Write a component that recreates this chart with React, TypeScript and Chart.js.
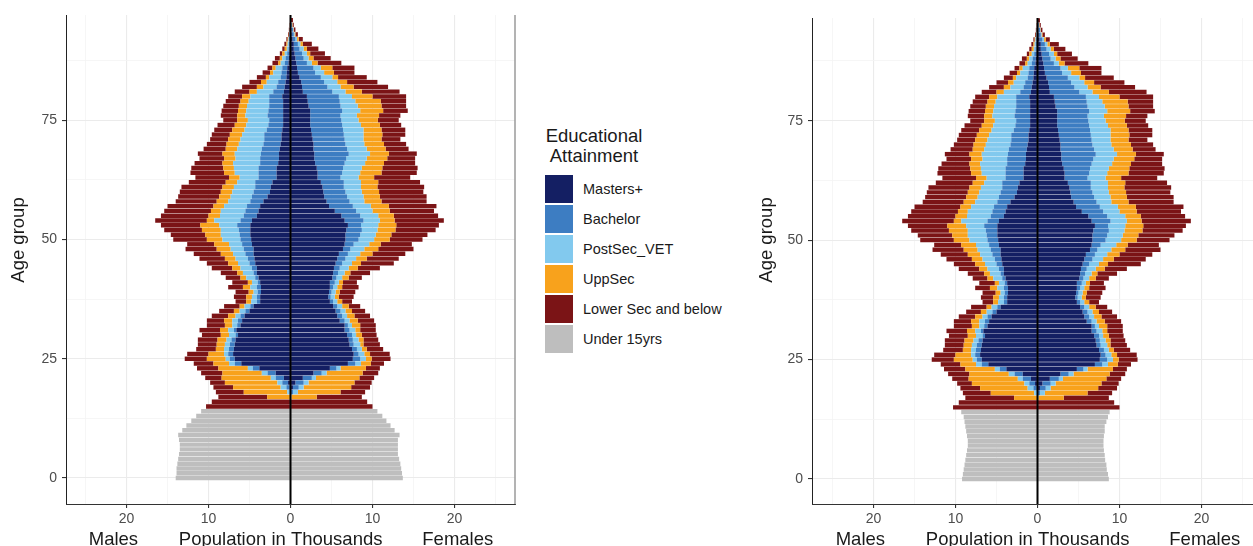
import React, { useEffect, useRef } from 'react';
import { Chart, registerables } from 'chart.js';

Chart.register(...registerables);

// ---------- categories ----------
const CATEGORIES = ['Masters+', 'Bachelor', 'PostSec_VET', 'UppSec', 'Lower Sec and below', 'Under 15yrs'];
const COLORS = ['#141f63', '#3d7dc2', '#82c9ee', '#f8a21c', '#7b1416', '#bebebe'];

// ages (descending)
const ADULT_AGES = [96, 95, 94, 93, 92, 91, 90, 89, 88, 87, 86, 85, 84, 83, 82, 81, 80, 79, 78, 77, 76, 75, 74, 73, 72, 71, 70, 69, 68, 67, 66, 65, 64, 63, 62, 61, 60, 59, 58, 57, 56, 55, 54, 53, 52, 51, 50, 49, 48, 47, 46, 45, 44, 43, 42, 41, 40, 39, 38, 37, 36, 35, 34, 33, 32, 31, 30, 29, 28, 27, 26, 25, 24, 23, 22, 21, 20, 19, 18, 17, 16, 15];
const CHILD_AGES = [14, 13, 12, 11, 10, 9, 8, 7, 6, 5, 4, 3, 2, 1, 0];

// ---------- males: outer edge (thousands) of each attainment band, counted from the centre ----------
const maleMastersEdge = [0, 0, 0, 0.05, 0.05, 0.1, 0.1, 0.15, 0.2, 0.25, 0.4, 0.45, 0.5, 0.6, 0.7, 0.8, 1.0, 0.9, 0.9, 0.9, 0.9, 0.9, 0.9, 1.0, 1.1, 1.1, 1.2, 1.3, 1.4, 1.4, 1.5, 1.7, 1.7, 1.7, 2.2, 2.4, 2.5, 2.8, 3.3, 3.7, 3.9, 4.1, 4.7, 4.9, 4.9, 4.9, 4.8, 4.7, 4.5, 4.5, 4.4, 4.3, 4.1, 4.1, 3.9, 3.7, 3.6, 3.6, 3.7, 3.7, 4.5, 5.0, 5.6, 5.9, 6.1, 6.6, 6.4, 6.7, 6.8, 6.9, 7.0, 6.8, 6.0, 3.8, 1.8, 0.8, 0.3, 0.1, 0, 0, 0, 0];
const maleBachelorEdge = [0, 0, 0.05, 0.1, 0.15, 0.2, 0.25, 0.4, 0.6, 0.7, 1.0, 1.1, 1.2, 1.5, 1.7, 2.1, 2.6, 2.6, 2.6, 2.7, 2.8, 2.6, 2.7, 2.9, 3.2, 3.2, 3.3, 3.5, 3.6, 3.7, 3.7, 3.9, 3.9, 3.9, 4.3, 4.3, 4.5, 4.7, 4.9, 5.3, 5.5, 5.7, 6.1, 6.5, 6.3, 6.2, 6.1, 5.9, 5.7, 5.5, 5.2, 5.0, 4.7, 4.5, 4.3, 4.0, 4.1, 4.0, 4.1, 4.1, 4.9, 5.5, 6.1, 6.4, 6.5, 6.9, 6.7, 7.2, 7.4, 7.5, 7.6, 7.4, 6.8, 4.6, 2.8, 1.8, 1.0, 0.5, 0.1, 0, 0, 0];
const malePostSecEdge = [0, 0, 0.08, 0.15, 0.25, 0.35, 0.45, 0.7, 1.0, 1.2, 1.8, 2.1, 2.6, 2.9, 3.3, 4.1, 4.9, 5.1, 5.3, 5.4, 5.5, 5.2, 5.4, 5.6, 5.9, 6.1, 6.3, 6.5, 6.8, 6.7, 7.0, 6.9, 6.8, 6.2, 6.5, 6.9, 7.1, 7.3, 7.6, 8.1, 8.5, 8.6, 9.3, 8.7, 8.5, 8.5, 8.3, 7.5, 7.3, 7.0, 6.7, 6.4, 6.1, 5.8, 5.4, 4.7, 4.9, 4.5, 4.7, 4.8, 5.6, 6.2, 6.7, 7.1, 7.1, 7.6, 7.5, 7.8, 8.0, 8.1, 8.1, 7.9, 7.5, 5.2, 3.5, 2.4, 1.6, 1.2, 0.4, 0.05, 0, 0];
const maleUppSecEdge = [0, 0.05, 0.1, 0.2, 0.35, 0.5, 0.7, 1.0, 1.3, 1.5, 2.2, 2.5, 3.0, 3.6, 4.1, 5.0, 5.9, 6.1, 6.3, 6.4, 6.5, 6.5, 6.8, 7.1, 7.4, 7.6, 7.8, 7.9, 8.3, 8.1, 8.3, 8.2, 8.1, 7.5, 7.9, 8.3, 8.5, 8.7, 9.0, 9.4, 9.7, 10.0, 10.2, 11.0, 10.8, 10.4, 10.2, 9.3, 9.0, 8.5, 8.0, 7.6, 7.1, 6.5, 6.1, 5.2, 5.8, 5.1, 5.4, 5.4, 6.2, 6.9, 7.6, 8.1, 8.0, 8.6, 8.5, 8.9, 9.0, 9.1, 10.0, 10.2, 9.4, 8.8, 8.3, 8.4, 8.0, 7.0, 5.7, 2.85, 0, 0];
const maleTotal = [0.05, 0.1, 0.2, 0.3, 0.5, 0.75, 1.0, 1.3, 1.9, 2.2, 2.8, 3.4, 4.1, 5.0, 5.9, 6.8, 7.6, 7.9, 8.2, 8.4, 8.5, 8.2, 8.9, 9.3, 9.6, 9.8, 10.2, 10.6, 11.3, 11.1, 11.7, 12.1, 12.2, 11.6, 12.4, 13.3, 13.5, 13.7, 14.0, 15.0, 15.4, 15.8, 16.5, 15.8, 15.4, 14.6, 14.3, 12.6, 12.8, 11.8, 11.1, 10.2, 9.6, 8.5, 7.9, 7.1, 7.6, 6.7, 6.9, 6.7, 8.1, 8.7, 9.6, 10.2, 10.2, 11.1, 10.8, 11.3, 11.3, 11.5, 12.6, 12.9, 11.8, 11.4, 10.9, 10.4, 9.8, 9.4, 9.1, 8.8, 9.6, 10.3];

// ---------- females ----------
const femaleMastersEdge = [0, 0.05, 0.1, 0.15, 0.25, 0.4, 0.4, 0.5, 0.6, 0.7, 0.8, 0.9, 1.1, 1.3, 1.4, 1.5, 2.0, 2.1, 2.2, 2.4, 2.4, 2.4, 2.4, 2.5, 2.6, 2.7, 2.8, 2.8, 2.9, 2.9, 3.0, 3.2, 3.3, 3.3, 3.7, 3.9, 4.0, 4.1, 4.4, 4.7, 5.4, 6.2, 6.6, 7.0, 6.8, 6.7, 6.7, 6.6, 6.4, 5.9, 5.7, 5.5, 5.3, 5.2, 5.1, 4.8, 4.8, 4.7, 4.6, 4.8, 5.2, 5.5, 5.7, 6.0, 6.6, 6.6, 6.9, 7.1, 7.2, 7.5, 7.7, 7.6, 7.0, 4.8, 2.8, 1.5, 0.6, 0.3, 0.05, 0, 0, 0];
const femaleBachelorEdge = [0, 0.15, 0.3, 0.4, 0.6, 0.9, 1.1, 1.4, 1.6, 2.0, 2.8, 3.0, 3.7, 4.1, 4.5, 5.1, 5.9, 6.0, 6.1, 6.3, 6.1, 6.2, 6.3, 6.4, 6.5, 6.6, 6.7, 6.9, 7.1, 6.8, 6.6, 6.4, 6.3, 6.1, 6.5, 6.5, 6.7, 6.9, 7.2, 7.6, 8.0, 8.5, 8.9, 8.6, 8.7, 8.5, 8.3, 7.7, 7.3, 7.0, 6.7, 6.3, 6.0, 5.8, 5.6, 5.4, 5.2, 5.0, 4.9, 5.2, 5.7, 6.1, 6.3, 6.6, 7.0, 7.2, 7.5, 7.6, 7.7, 8.1, 8.3, 8.5, 7.9, 5.6, 3.8, 2.6, 1.6, 1.0, 0.3, 0, 0, 0];
const femalePostSecEdge = [0, 0.2, 0.35, 0.5, 0.8, 1.2, 1.6, 2.0, 2.2, 2.6, 3.7, 4.1, 5.1, 5.7, 6.1, 6.7, 7.5, 7.9, 8.2, 8.5, 8.1, 8.3, 8.6, 8.9, 8.9, 8.9, 9.0, 9.3, 9.7, 9.3, 9.1, 8.7, 8.5, 8.3, 8.6, 8.6, 8.7, 8.9, 9.0, 9.8, 10.0, 10.7, 10.9, 10.7, 10.6, 10.4, 10.2, 9.6, 9.0, 8.5, 8.0, 7.5, 7.1, 6.6, 6.3, 5.9, 5.7, 5.5, 5.4, 5.7, 6.3, 6.7, 6.9, 7.2, 7.5, 7.9, 8.0, 8.3, 8.5, 8.7, 9.0, 9.2, 8.6, 6.1, 4.4, 3.1, 2.2, 1.6, 0.9, 0.1, 0, 0];
const femaleUppSecEdge = [0, 0.25, 0.4, 0.6, 1.0, 1.5, 2.0, 2.4, 2.8, 3.3, 5.1, 5.3, 5.8, 6.9, 7.7, 8.7, 10.0, 11.0, 11.1, 11.3, 10.8, 10.65, 10.9, 11.1, 11.2, 11.1, 11.4, 11.6, 12.0, 11.8, 11.4, 11.2, 11.1, 10.2, 10.7, 10.6, 10.8, 10.9, 11.1, 12.0, 12.1, 12.6, 12.7, 12.9, 12.8, 12.3, 12.1, 11.0, 10.7, 10.0, 9.3, 8.6, 8.2, 7.3, 7.1, 6.4, 6.3, 6.0, 5.9, 6.3, 7.1, 7.5, 7.8, 8.2, 8.5, 8.5, 8.7, 8.9, 8.9, 9.3, 9.7, 9.9, 9.8, 9.2, 8.8, 8.4, 7.8, 7.4, 6.1, 3.2, 0, 0];
const femaleTotal = [0.3, 0.4, 0.6, 0.9, 1.5, 2.6, 3.4, 4.2, 4.9, 6.2, 7.8, 7.8, 9.3, 10.6, 11.9, 13.3, 14.1, 14.1, 14.1, 14.3, 13.4, 13.2, 13.5, 14.0, 14.0, 13.4, 14.1, 14.4, 15.4, 15.2, 15.2, 15.5, 15.4, 14.6, 15.8, 16.3, 16.2, 16.6, 16.6, 17.8, 17.5, 18.0, 18.7, 18.1, 17.7, 16.7, 16.1, 14.8, 15.0, 14.0, 13.2, 12.6, 10.9, 9.7, 8.7, 8.1, 8.3, 7.9, 7.7, 7.5, 8.5, 9.1, 9.7, 10.2, 10.4, 10.4, 10.5, 10.7, 10.9, 11.3, 12.1, 12.2, 11.4, 10.9, 10.7, 10.2, 9.9, 9.7, 9.1, 8.7, 9.35, 10.0];

// ---------- under 15 (ages 14 -> 0) ----------
const leftMaleUnder15 = [10.9, 11.5, 12.1, 12.7, 13.2, 13.7, 13.6, 13.5, 13.5, 13.6, 13.7, 13.8, 13.9, 13.9, 14.0];
const leftFemaleUnder15 = [10.6, 11.2, 11.7, 12.2, 12.7, 13.3, 13.1, 13.1, 13.1, 13.1, 13.25, 13.4, 13.5, 13.6, 13.7];
const rightMaleUnder15 = [9.3, 9.0, 8.9, 8.8, 8.7, 8.6, 8.5, 8.5, 8.6, 8.7, 8.8, 8.9, 9.0, 9.1, 9.2];
const rightFemaleUnder15 = [8.8, 8.6, 8.4, 8.2, 8.2, 8.1, 8.05, 8.05, 8.1, 8.2, 8.25, 8.4, 8.45, 8.6, 8.7];

// ---------- axes ----------
const X_TICKS = [-25, -20, -15, -10, -5, 0, 5, 10, 15, 20, 25];
const Y_TICKS = [0, 12.5, 25, 37.5, 50, 62.5, 75, 87.5];

const FONT = '"Liberation Sans", Arial, Helvetica, sans-serif';

function bandPoints(ages: number[], inner: number[] | null, outer: number[], side: number) {
  const pts: any[] = [];
  for (let i = 0; i < ages.length; i++) {
    const a = inner ? inner[i] : 0;
    const b = outer[i];
    if (b - a <= 0) continue;
    pts.push({ y: ages[i], x: side < 0 ? [-b, -a] : [a, b] });
  }
  return pts;
}

function buildDatasets(under15Male: number[], under15Female: number[]) {
  const maleEdges = [maleMastersEdge, maleBachelorEdge, malePostSecEdge, maleUppSecEdge, maleTotal];
  const femaleEdges = [femaleMastersEdge, femaleBachelorEdge, femalePostSecEdge, femaleUppSecEdge, femaleTotal];
  const common = { grouped: false, categoryPercentage: 1, barPercentage: 0.93, borderWidth: 0 };
  const ds: any[] = [];
  for (let k = 0; k < 5; k++) {
    ds.push({ ...common, label: CATEGORIES[k], backgroundColor: COLORS[k],
      data: bandPoints(ADULT_AGES, k === 0 ? null : maleEdges[k - 1], maleEdges[k], -1) });
    ds.push({ ...common, label: CATEGORIES[k], backgroundColor: COLORS[k],
      data: bandPoints(ADULT_AGES, k === 0 ? null : femaleEdges[k - 1], femaleEdges[k], 1) });
  }
  ds.push({ ...common, label: CATEGORIES[5], backgroundColor: COLORS[5], data: bandPoints(CHILD_AGES, null, under15Male, -1) });
  ds.push({ ...common, label: CATEGORIES[5], backgroundColor: COLORS[5], data: bandPoints(CHILD_AGES, null, under15Female, 1) });
  return ds;
}

const decorPlugin = {
  id: 'pyramidDecor',
  afterDatasetsDraw(chart: any, _args: any, opts: any) {
    const { ctx, chartArea, scales } = chart;
    const x0 = scales.x.getPixelForValue(0);
    ctx.save();
    ctx.strokeStyle = '#000';
    ctx.lineWidth = 2;
    ctx.beginPath();
    ctx.moveTo(x0, chartArea.top);
    ctx.lineTo(x0, chartArea.bottom);
    ctx.stroke();
    if (opts.rightBorder) {
      ctx.strokeStyle = '#9a9a9a';
      ctx.lineWidth = 1.5;
      ctx.beginPath();
      ctx.moveTo(chartArea.right, chartArea.top);
      ctx.lineTo(chartArea.right, chartArea.bottom);
      ctx.stroke();
    }
    ctx.restore();
  },
  afterDraw(chart: any, _args: any, opts: any) {
    const { ctx, scales } = chart;
    const x = scales.x;
    ctx.save();
    ctx.fillStyle = '#1a1a1a';
    ctx.font = '18.5px ' + FONT;
    ctx.textAlign = 'center';
    ctx.textBaseline = 'alphabetic';
    ctx.fillText('Males', x.getPixelForValue(-21.6), 545);
    ctx.fillText('Population in Thousands', x.getPixelForValue(-1.2), 545);
    ctx.fillText('Females', x.getPixelForValue(20.4), 545);
    ctx.translate(opts.yTitleX, 240);
    ctx.rotate(-Math.PI / 2);
    ctx.textBaseline = 'middle';
    ctx.fillText('Age group', 0, 0);
    ctx.restore();
  },
};

const tickVal = (c: any) => (c && c.tick ? c.tick.value : NaN);

function Pyramid(props: any) {
  const ref = useRef<HTMLCanvasElement>(null);
  const { left, width, top, xMin, xMax, yMin, yMax, axisWidth, under15Male, under15Female, rightBorder, yTitleX } = props;
  useEffect(() => {
    if (!ref.current) return;
    const isMajorX = (v: number) => v % 10 === 0;
    const isMajorY = (v: number) => v % 25 === 0;
    const chart = new Chart(ref.current, {
      type: 'bar',
      data: { datasets: buildDatasets(under15Male, under15Female) },
      plugins: [decorPlugin],
      options: {
        indexAxis: 'y',
        animation: false,
        responsive: false,
        maintainAspectRatio: false,
        layout: { padding: { top, right: props.padRight, left: 0, bottom: 0 } },
        plugins: {
          legend: { display: false },
          tooltip: { enabled: false },
          pyramidDecor: { rightBorder, yTitleX },
        } as any,
        scales: {
          x: {
            type: 'linear',
            min: xMin,
            max: xMax,
            offset: false,
            afterBuildTicks: (s: any) => { s.ticks = X_TICKS.map((v) => ({ value: v })); },
            afterFit: (s: any) => { s.height = 42; },
            grid: {
              offset: false,
              color: (c: any) => (isMajorX(tickVal(c)) ? '#ebebeb' : '#f4f4f4'),
              lineWidth: (c: any) => (isMajorX(tickVal(c)) ? 1.1 : 0.8),
              tickLength: 4,
              tickColor: (c: any) => (isMajorX(tickVal(c)) ? '#333333' : 'rgba(0,0,0,0)'),
            },
            border: { display: true, color: '#333333', width: 1 },
            ticks: {
              autoSkip: false,
              maxRotation: 0,
              padding: 3,
              color: '#4d4d4d',
              font: { family: FONT, size: 14 },
              callback: (v: any) => (isMajorX(Number(v)) ? String(Math.abs(Number(v))) : ''),
            },
          },
          y: {
            type: 'linear',
            min: yMin,
            max: yMax,
            offset: false,
            afterBuildTicks: (s: any) => { s.ticks = Y_TICKS.map((v) => ({ value: v })); },
            afterFit: (s: any) => { s.width = axisWidth; },
            grid: {
              offset: false,
              color: (c: any) => (isMajorY(tickVal(c)) ? '#ebebeb' : '#f4f4f4'),
              lineWidth: (c: any) => (isMajorY(tickVal(c)) ? 1.1 : 0.8),
              tickLength: 4,
              tickColor: (c: any) => (isMajorY(tickVal(c)) ? '#333333' : 'rgba(0,0,0,0)'),
            },
            border: { display: true, color: '#222222', width: 1 },
            ticks: {
              autoSkip: false,
              padding: 5,
              color: '#4d4d4d',
              font: { family: FONT, size: 14 },
              callback: (v: any) => (isMajorY(Number(v)) ? String(v) : ''),
            },
          },
        },
      } as any,
    });
    return () => chart.destroy();
  }, []);
  return (
    <canvas
      ref={ref}
      width={width}
      height={546}
      style={{ position: 'absolute', left, top: 0, width, height: 546 }}
    />
  );
}

function Legend() {
  const items = CATEGORIES.map((c, i) => (
    <div key={c} style={{ display: 'flex', alignItems: 'center', height: 28, marginBottom: 2 }}>
      <div style={{ width: 28, height: 28, background: COLORS[i] }} />
      <div style={{ marginLeft: 10, fontSize: 14.5, color: '#1a1a1a' }}>{c}</div>
    </div>
  ));
  return (
    <div style={{ position: 'absolute', left: 545, top: 126, fontFamily: FONT }}>
      <div style={{ width: 98, textAlign: 'center', fontSize: 18.5, lineHeight: '20px', color: '#1a1a1a', whiteSpace: 'nowrap' }}>
        Educational<br />Attainment
      </div>
      <div style={{ marginTop: 9 }}>{items}</div>
    </div>
  );
}

export default function App() {
  return (
    <div style={{ position: 'fixed', left: 0, top: 0, width: 1253, height: 546, overflow: 'hidden', background: '#ffffff' }}>
      <Pyramid left={0} width={520} top={15} padRight={5} xMin={-27.38} xMax={27.38} yMin={-5.45} yMax={97.07}
        axisWidth={66} under15Male={leftMaleUnder15} under15Female={leftFemaleUnder15} rightBorder={true} yTitleX={19} />
      <Legend />
      <Pyramid left={740} width={523} top={18} padRight={0} xMin={-27.5} xMax={27.5} yMin={-5.23} yMax={96.5}
        axisWidth={72} under15Male={rightMaleUnder15} under15Female={rightFemaleUnder15} rightBorder={false} yTitleX={27} />
    </div>
  );
}
